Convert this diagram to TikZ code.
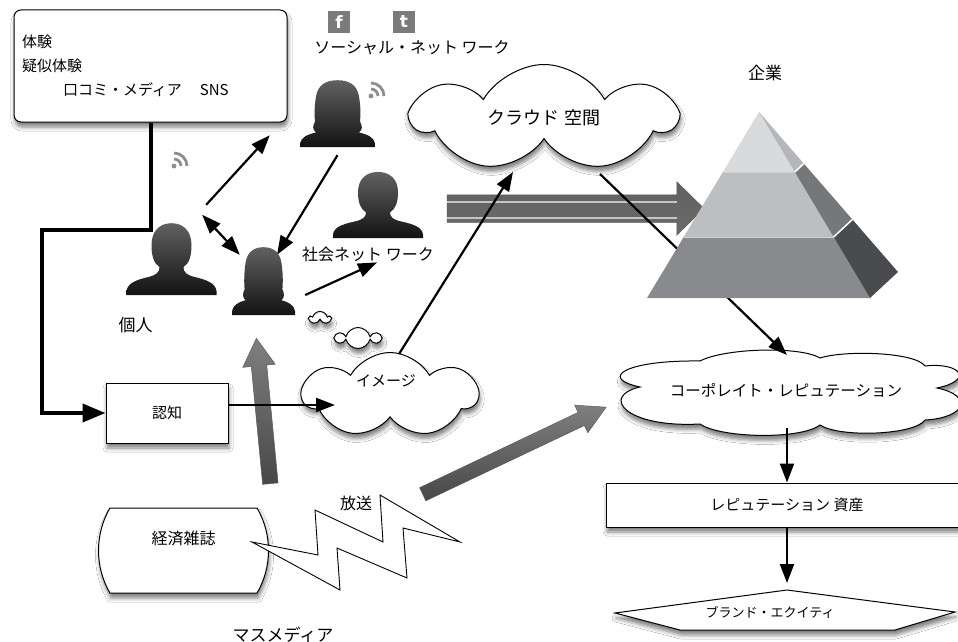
\documentclass[tikz,border=0pt]{standalone}
\usepackage{fontspec}
\setmainfont{Noto Sans CJK JP}
\newfontfamily\iconfont{DejaVu Sans}
\usetikzlibrary{arrows.meta,positioning,shapes.symbols,shapes.arrows,shapes.misc,shadows.blur}

\definecolor{pyrtopf}{HTML}{D9DADC}
\definecolor{pyrtops}{HTML}{B4B6B9}
\definecolor{pyrmidf}{HTML}{BCBEC1}
\definecolor{pyrmids}{HTML}{76777B}
\definecolor{pyrbotf}{HTML}{898A8E}
\definecolor{pyrbots}{HTML}{4A4B4E}
\definecolor{rssgray}{HTML}{8E8E8E}
\definecolor{icongray}{HTML}{7B7B7B}
\definecolor{stripe}{HTML}{C4C5C8}

\tikzset{
  >={Triangle[length=19pt,width=14pt,fill=black]},
  lbl/.style  ={inner sep=0pt, font=\fontsize{15}{18}\selectfont},
  link/.style ={line width=2.2pt, ->},
  feed/.style ={line width=4pt, -{Triangle[length=23pt,width=18pt,fill=black]}},
  soft/.style ={blur shadow={shadow xshift=1pt, shadow yshift=-5pt, shadow blur radius=4pt, shadow opacity=50}},
  box/.style  ={draw, line width=1pt, fill=white, soft},
  puff/.style ={cloud, cloud ignores aspect, draw, line width=1pt, fill=white, soft, inner sep=0pt},
  spot/.style ={inner sep=0pt},
  icon/.style ={fill=icongray, text=white, minimum size=22pt, inner sep=0pt, font=\iconfont\bfseries\fontsize{17}{17}\selectfont},
  fatarrow/.style={single arrow, inner sep=0pt, single arrow head indent=0pt, draw=black!65, line width=.5pt,
    top color=black!50, bottom color=black!72},
  silhouette/.style={top color=black!62, bottom color=black!93},
  man/.pic={
    \shade[silhouette] (-45,0) -- (-45,-4) .. controls (-44,-12) and (-36,-15) .. (-24,-18)
      .. controls (-15,-20) and (-12,-23) .. (-12,-28)
      .. controls (-18,-32) and (-20,-40) .. (-20,-50)
      .. controls (-20,-64) and (-12,-72) .. (0,-72)
      .. controls (12,-72) and (20,-64) .. (20,-50)
      .. controls (20,-40) and (18,-32) .. (12,-28)
      .. controls (12,-23) and (15,-20) .. (24,-18)
      .. controls (36,-15) and (44,-12) .. (45,-4) -- (45,0) -- cycle;
  },
  woman/.pic={
    \shade[silhouette] (-35,0) -- (-35,-4) .. controls (-34,-10) and (-28,-13) .. (-20,-15)
      .. controls (-24,-18) and (-23,-22) .. (-21,-26)
      .. controls (-22,-36) and (-21,-46) .. (-20,-52)
      .. controls (-18,-64) and (-10,-68) .. (0,-68)
      .. controls (10,-68) and (18,-64) .. (20,-52)
      .. controls (21,-46) and (22,-36) .. (21,-26)
      .. controls (23,-22) and (24,-18) .. (20,-15)
      .. controls (28,-13) and (34,-10) .. (35,-4) -- (35,0) -- cycle;
  },
  rss/.pic={
    \fill[rssgray] (0,0) circle (2.4pt);
    \draw[rssgray, line width=2.8pt] (7,0) arc[start angle=0, end angle=-90, radius=7];
    \draw[rssgray, line width=2.8pt] (13,0) arc[start angle=0, end angle=-90, radius=13];
  }
}

\begin{document}
\begin{tikzpicture}[x=1pt,y=-1pt]
\fill[white, use as bounding box] (0,0) rectangle (958,642);

\node[box, rounded corners=7pt, minimum width=273pt, minimum height=112pt, text width=257pt,
  align=left, lbl, font=\fontsize{15}{24}\selectfont] (keiken) at (150.5,66)
  {体験\\疑似体験\\\hspace*{41pt}口コミ・メディア\hspace{18pt}SNS};
\node[box, minimum width=122pt, minimum height=60pt, lbl] (ninchi) at (167,413) {認知};
\node[box, rounded rectangle, rounded rectangle arc length=60, minimum width=113pt,
  minimum height=85pt, lbl, font=\fontsize{16}{19}\selectfont, text depth=26pt] (keizai)
  at (183.5,550.5) {経済雑誌};
\node[box, minimum width=362pt, minimum height=44pt, lbl] (shisan) at (787,505) {レピュテーション 資産};
\draw[box] (615,613) -- (787,590) -- (955,612) -- (895,630) -- (680,630) -- cycle;
\coordinate (brandtop) at (787,590);
\node[lbl, font=\fontsize{13}{16}\selectfont] (brand) at (770,612) {ブランド・エクイティ};

\node[puff, cloud puffs=7, cloud puff arc=120, minimum width=262pt, minimum height=107pt, lbl,
  font=\fontsize{18}{21}\selectfont] (kuraudo) at (544,118) {クラウド 空間};
\node[puff, cloud puffs=7, cloud puff arc=120, minimum width=175pt, minimum height=85pt] (image) at (390,395) {};
\node[lbl] (imagetxt) at (386,381) {イメージ};
% wide cloud with pointed ends
\draw[box] (640,387) .. controls (598,378) and (625,360) .. (700,361)
  .. controls (725,348) and (800,346) .. (820,358)
  .. controls (845,350) and (915,352) .. (925,366)
  .. controls (960,362) and (975,380) .. (937,388)
  .. controls (975,396) and (965,418) .. (925,420)
  .. controls (915,435) and (840,438) .. (820,425)
  .. controls (800,440) and (720,438) .. (700,424)
  .. controls (625,428) and (600,396) .. (640,387) -- cycle;
\node[lbl, font=\fontsize{15.5}{18}\selectfont] (corp) at (786,390) {コーポレイト・レピュテーション};
\node[puff, cloud puffs=5, minimum width=21pt, minimum height=13pt] (bubble1) at (320,318) {};
\node[puff, cloud puffs=6, minimum width=43pt, minimum height=21pt] (bubble2) at (358,338) {};

\draw[line width=.9pt, fill=white] (252,542) -- (318,555) -- (315,510) -- (383,542) -- (380,495)
  -- (460,542) -- (403,528) -- (407,578) -- (337,548) -- (340,590) -- cycle;

\node[icon] (fb) at (339,22) {f};
\node[icon] (tw) at (404,22) {t};
\node[lbl, font=\fontsize{16}{19}\selectfont] (sonet) at (412,48) {ソーシャル・ネット ワーク};
\node[lbl, font=\fontsize{17}{20}\selectfont] (kigyo) at (765,73) {企業};
\node[lbl, font=\fontsize{16}{19}\selectfont] (hoso) at (356,503) {放送};
\node[lbl, font=\fontsize{17}{20}\selectfont] (masu) at (283,635) {マスメディア};

\node[spot, minimum width=89pt, minimum height=72pt] (kojin) at (171.5,259) {};
\node[spot, minimum width=63pt, minimum height=68pt] (wmid) at (263.5,281) {};
\node[spot, minimum width=75pt, minimum height=67pt] (wtop) at (337.5,113.5) {};
\node[spot, minimum width=90pt, minimum height=66pt] (mright) at (378,205) {};
\node[lbl, font=\fontsize{17}{20}\selectfont, below=22pt of kojin, xshift=-36pt] (kojinlbl) {個人};
\node[lbl, font=\fontsize{16}{19}\selectfont, below=9pt of mright, xshift=-10pt] (shakai) {社会ネット ワーク};

\node[fatarrow, rotate=95.5, minimum height=146pt, inner ysep=7.5pt, single arrow head extend=8.5pt,
  single arrow tip angle=61] (rise) at (264,417.5) {};
\node[fatarrow, rotate=25.4, minimum height=203pt, inner ysep=7pt, single arrow head extend=8pt,
  single arrow tip angle=58] (cast) at (508.5,453.5) {};
\node[fatarrow, minimum height=257pt, inner ysep=13.5pt, single arrow head extend=13pt,
  single arrow tip angle=89, top color=black!62, bottom color=black!58] (flow) at (568.5,208.5) {};
\draw[stripe, line width=2.2pt] ([yshift=6.5pt]flow.tail) -- ([yshift=6.5pt]flow.tail -| flow.before head)
  ([yshift=-9.5pt]flow.tail) -- ([yshift=-9.5pt]flow.tail -| flow.before head);

\draw[feed] (keiken.south) -- ++(0,107) -| ([xshift=-64pt]ninchi.west) -- (ninchi.west);
\draw[link] ([yshift=8pt]ninchi.east) -- ([shift={(-55pt,-10pt)}]image.center);
\draw[link] ([shift={(9pt,41pt)}]image.center) -- ([shift={(-31pt,-54pt)}]kuraudo.center);
\draw[link] ([shift={(56pt,-56pt)}]kuraudo.center) -- ([shift={(1pt,35pt)}]corp.center);
\draw[link] ([shift={(1pt,-38pt)}]corp.center) -- (shisan.north);
\draw[link, shorten >=7pt] (shisan.south) -- (brandtop);
\draw[link] ([shift={(-10pt,18pt)}]kojin.north east) -- ([shift={(-30pt,12pt)}]wtop.south west);
\draw[link, <->] ([shift={(-14pt,8pt)}]kojin.north east) -- ([shift={(8pt,-8pt)}]wmid.north west);
\draw[link] ([yshift=-8pt]wtop.south) -- ([shift={(13.5pt,-8pt)}]wmid.north);
\draw[link] ([shift={(10pt,-14pt)}]wmid.east) -- ([xshift=9pt]shakai.south);

% pyramid, three layers with a shaded side
\fill[pyrbotf] (683.7,237) -- (833.6,237) -- (870,298) -- (647,298) -- cycle;
\fill[pyrbots] (833.6,237) -- (852.4,219.5) -- (898,272) -- (870,298) -- cycle;
\fill[pyrmidf] (722.9,172) -- (794.8,172) -- (833.6,237) -- (683.7,237) -- cycle;
\fill[pyrmids] (794.8,172) -- (803.8,163.6) -- (852.4,219.5) -- (833.6,237) -- cycle;
\fill[pyrtopf] (759,112) -- (794.8,172) -- (722.9,172) -- cycle;
\fill[pyrtops] (759,112) -- (803.8,163.6) -- (794.8,172) -- cycle;
\draw[white, line width=1.5pt] (794.8,172) -- (803.8,163.6) (833.6,237) -- (852.4,219.5);
\draw[black!18, line width=1pt] (722.9,172) -- (794.8,172) (683.7,237) -- (833.6,237);

\pic at (kojin.south) {man};
\pic[xscale=.9] at (wmid.south) {woman};
\pic[xscale=1.07, yscale=.985] at (wtop.south) {woman};
\pic[yscale=.92] at (mright.south) {man};
\pic at (174,166) {rss};
\pic at (371,96) {rss};
\end{tikzpicture}
\end{document}
